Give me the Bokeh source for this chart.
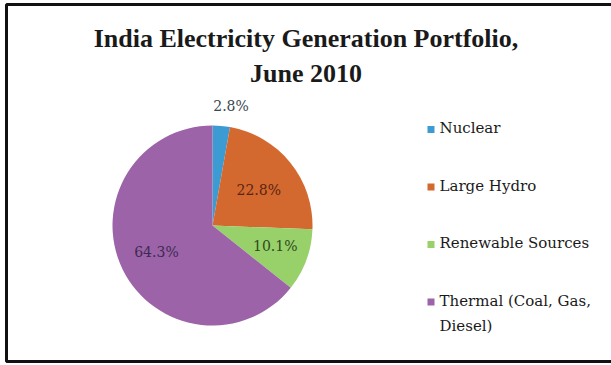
import numpy as np
from bokeh.plotting import figure
from bokeh.models import Range1d, ColumnDataSource
from bokeh.core.properties import value
from bokeh.embed import file_html
from bokeh.resources import INLINE

title_lines = ["India Electricity Generation Portfolio,", "June 2010"]
categories = ["Nuclear", "Large Hydro", "Renewable Sources", "Thermal (Coal, Gas, Diesel)"]
legend_labels = ["Nuclear", "Large Hydro", "Renewable Sources", "Thermal (Coal, Gas,\nDiesel)"]
shares = [2.8, 22.8, 10.1, 64.3]
colors = ["#3C9BD2", "#D4692F", "#98D16A", "#9D63A8"]
label_colors = ["#3A4650", "#5A2412", "#2E4A1C", "#3C2A52"]

W, H = 611, 365
p = figure(width=W, height=H, output_backend="svg", toolbar_location=None,
           x_range=Range1d(0, W), y_range=Range1d(0, H), min_border=0)
p.axis.visible = False
p.grid.visible = False
p.outline_line_color = None
p.background_fill_color = "white"
p.border_fill_color = "white"

# frame
p.quad(left=[6], right=[W + 5], bottom=[H - 361], top=[H - 4],
       fill_color=None, line_color="#111111", line_width=3)

# pie
cx, cy, r = 212, H - 225, 100
vals = np.array(shares)
frac = vals / vals.sum()
cum = np.concatenate([[0], np.cumsum(frac)])
start = np.pi / 2 - cum[1:] * 2 * np.pi
end = np.pi / 2 - cum[:-1] * 2 * np.pi
src = ColumnDataSource(dict(start=start, end=end, color=colors, cat=categories))
p.wedge(x=cx, y=cy, radius=r, start_angle="start", end_angle="end",
        fill_color="color", line_color=None, source=src)

# data labels
mid = (start + end) / 2
lab_r = np.array([1.20, 0.62, 0.68, 0.60]) * r
dx = np.array([8, -2, -1, -2])
dy = np.array([0, -3, 3, 0])
lx = cx + lab_r * np.cos(mid) + dx
ly = cy + lab_r * np.sin(mid) + dy
lsrc = ColumnDataSource(dict(x=lx, y=ly, t=[f"{v:.1f}%" for v in shares], c=label_colors))
p.text(x="x", y="y", text="t", text_color="c", source=lsrc,
       text_font=value("DejaVu Serif"), text_font_size="14px",
       text_align="center", text_baseline="middle")

# title
p.text(x=[W / 2, W / 2], y=[H - 38, H - 73], text=title_lines,
       text_font=value("Liberation Serif"), text_font_style="bold",
       text_font_size="26px", text_color="#1a1a1a",
       text_align="center", text_baseline="middle")

# legend
ly0, step = H - 129, 57.5
ys = [ly0 - i * step for i in range(len(categories))]
p.rect(x=[430.5] * len(categories), y=ys, width=7, height=7,
       fill_color=colors, line_color=None)
p.text(x=[439] * len(categories), y=[yy + 10.5 for yy in ys], text=legend_labels,
       text_font=value("DejaVu Serif"), text_font_size="15px",
       text_color="#1a1a1a", text_align="left", text_baseline="top",
       text_line_height=1.42)

open("out.html", "w").write(file_html(p, INLINE))
